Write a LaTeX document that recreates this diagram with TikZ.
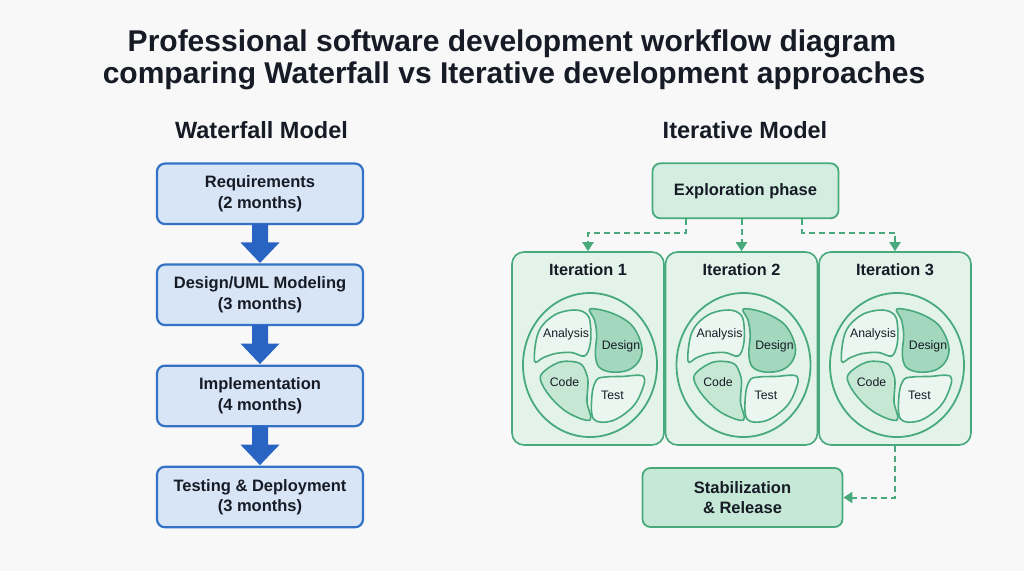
\documentclass[tikz,border=0pt]{standalone}
\usepackage{fontspec}
\setmainfont{Liberation Sans}
\usetikzlibrary{arrows.meta,calc}
\definecolor{bgc}{HTML}{F7F8F7}
\definecolor{titlec}{HTML}{161B26}
\definecolor{wfill}{HTML}{D7E5F6}
\definecolor{wdraw}{HTML}{3472C6}
\definecolor{warr}{HTML}{2964C2}
\definecolor{gdraw}{HTML}{48A97C}
\definecolor{gexpl}{HTML}{D3EDE0}
\definecolor{giter}{HTML}{E3F3EA}
\definecolor{gstab}{HTML}{C6E8D6}
\definecolor{pdark}{HTML}{A3D8BE}
\definecolor{pmid}{HTML}{C7E7D5}
\definecolor{plight}{HTML}{EAF6EF}
\tikzset{
  x=1pt, y=-1pt,
  wbox/.style={draw=wdraw, fill=wfill, line width=2.2pt, rounded corners=8pt,
    minimum width=206pt, minimum height=60.5pt, align=center, inner sep=0pt,
    font=\fontsize{16.5}{20.5}\selectfont\bfseries, text=titlec},
  warrow/.style={fill=warr},
  gbox/.style={draw=gdraw, line width=1.8pt, rounded corners=8pt, align=center,
    inner sep=0pt, font=\fontsize{16.5}{20.5}\selectfont\bfseries, text=titlec},
  itbox/.style={draw=gdraw, fill=giter, line width=1.6pt, rounded corners=12pt,
    minimum width=152pt, minimum height=193pt, inner sep=0pt},
  ittitle/.style={anchor=base, font=\fontsize{16.3}{19}\selectfont\bfseries, text=titlec},
  dashc/.style={draw=gdraw, line width=2pt, dash pattern=on 6pt off 4pt,
    -{Triangle[width=11pt,length=9pt]}},
  ring/.style={draw=gdraw, line width=1.8pt, fill=giter},
  petal/.style={draw=gdraw, line width=1.6pt},
  petlab/.style={font=\fontsize{12.3}{14}\selectfont, text=titlec},
  heading/.style={anchor=base, font=\fontsize{23.5}{28}\selectfont\bfseries, text=titlec},
  titletext/.style={anchor=base, font=\fontsize{30}{34}\selectfont\bfseries, text=titlec},
  pinwheel/.pic={
    \path[petal, fill=plight] plot[smooth cycle, tension=0.6] coordinates {(-57,-5) (-53,-34) (-37,-51) (-16.5,-56) (-4,-51) (-0.8,-38) (-1.5,-21) (-7,-10) (-20,-13.5) (-36,-12.5) (-48,-8.5)};
    \path[petal, fill=pdark] plot[smooth cycle, tension=0.6] coordinates {(-1.5,-57) (20,-53) (40,-41) (50,-21) (48,-6) (37,4) (20,6) (7.5,1) (3.8,-12) (5.2,-31) (3,-46)};
    \path[petal, fill=pmid] plot[smooth cycle, tension=0.6] coordinates {(-47,5) (-33,-3.5) (-20,-4.5) (-10,-1.5) (-5,8) (-3.5,17) (-4.5,36) (-1.5,54) (-23,47) (-41,31) (-51,14)};
    \path[petal, fill=plight] plot[smooth cycle, tension=0.6] coordinates {(52,10.5) (30,10.5) (14,11) (5,14) (0.5,29) (2,53) (20,55) (39,43) (49,28)};
    \node[petlab] (an) at (-25.5,-32) {Analysis};
    \node[petlab] (de) at (29.5,-19.5) {Design};
    \node[petlab] (co) at (-27,16) {Code};
    \node[petlab] (te) at (21,29) {Test};
  }
}
\begin{document}
\begin{tikzpicture}
\path[fill=bgc] (0,0) rectangle (1024,571);
\useasboundingbox (0,0) rectangle (1024,571);

% titles
\node[titletext] (t1) at (512,51.5) {Professional software development workflow diagram};
\node[titletext] (t2) at (514,83.5) {comparing Waterfall vs Iterative development approaches};
\node[heading] (hw) at (261.5,138.8) {Waterfall Model};
\node[heading] (hi) at (745,138.8) {Iterative Model};

% waterfall
\node[wbox] (r1) at (260,193.8) {Requirements\\(2 months)};
\node[wbox] (r2) at (260,294.8) {Design/UML Modeling\\(3 months)};
\node[wbox] (r3) at (260,395.9) {Implementation\\(4 months)};
\node[wbox] (r4) at (260,497) {Testing \& Deployment\\(3 months)};
\foreach \a/\b in {r1/r2, r2/r3, r3/r4}{
  \fill[warrow] ($(\a.south)+(-8,-1)$) -- ($(\b.north)+(-8,-21)$) -- ($(\b.north)+(-19.5,-21)$)
    -- ($(\b.north)+(0,-0.5)$) -- ($(\b.north)+(19.5,-21)$) -- ($(\b.north)+(8,-21)$)
    -- ($(\a.south)+(8,-1)$) -- cycle;
}

% iterative
\node[gbox, fill=gexpl, minimum width=186pt, minimum height=55pt] (ex) at (745.5,190.8) {Exploration phase};
\node[itbox] (i1) at (588,348.5) {};
\node[itbox] (i2) at (741.5,348.5) {};
\node[itbox] (i3) at (895,348.5) {};
\node[ittitle] (l1) at ($(i1.north)+(0,24.5)$) {Iteration 1};
\node[ittitle] (l2) at ($(i2.north)+(0,24.5)$) {Iteration 2};
\node[ittitle] (l3) at ($(i3.north)+(0,24.5)$) {Iteration 3};
\foreach \i in {i1,i2,i3}{
  \path[ring] ($(\i.center)+(2,16.5)$) ellipse [x radius=67, y radius=72];
  \pic at ($(\i.center)+(3.5,17.5)$) {pinwheel};
}
\node[gbox, fill=gstab, minimum width=200pt, minimum height=59pt] (st) at (742.5,497.5) {Stabilization\\\& Release};

% dashed connectors
\coordinate (e1) at ($(ex.south)+(-59.5,0)$);
\coordinate (e3) at ($(ex.south)+(56.5,0)$);
\draw[dashc] (e1) -- ++(0,13.5) -| (i1.north);
\draw[dashc] (ex.south -| i2.north) -- (i2.north);
\draw[dashc] (e3) -- ++(0,13.5) -| (i3.north);
\draw[dashc] (i3.south) |- (st.east);
\end{tikzpicture}
\end{document}
